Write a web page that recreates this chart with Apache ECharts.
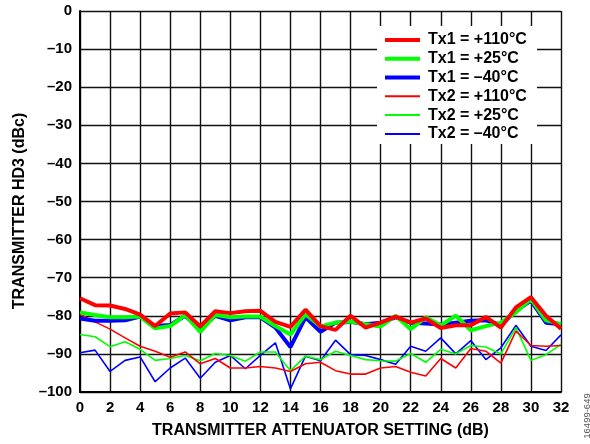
<!DOCTYPE html>
<html>
<head>
<meta charset="utf-8">
<script src="https://cdn.jsdelivr.net/npm/echarts@6/dist/echarts.min.js"></script>
<style>html,body{margin:0;padding:0;background:#fff}#c{width:590px;height:444px}</style>
</head>
<body>
<div id="c"></div>
<script>
const xValues = [0,1,2,3,4,5,6,7,8,9,10,11,12,13,14,15,16,17,18,19,20,21,22,23,24,25,26,27,28,29,30,31,32];
const yTicks = [0,-10,-20,-30,-40,-50,-60,-70,-80,-90,-100];
const tx1_110 = [-75.4,-77.2,-77.3,-78.2,-79.7,-82.7,-79.4,-79.1,-82.8,-78.8,-79.3,-78.8,-78.7,-81.6,-82.9,-78.4,-82.7,-83.7,-80.0,-83.1,-81.8,-80.2,-81.8,-80.7,-83.2,-82.5,-82.5,-80.3,-83.1,-77.8,-75.1,-80.0,-83.4];
const tx1_25  = [-79.1,-79.8,-80.4,-80.4,-80.2,-83.3,-82.7,-79.8,-84.2,-79.8,-80.4,-80.2,-80.2,-82.7,-84.9,-79.6,-82.8,-81.8,-81.5,-82.2,-82.8,-80.0,-83.5,-80.4,-82.5,-80.0,-83.8,-82.7,-81.8,-79.1,-75.6,-81.2,-82.2];
const tx1_m40 = [-80.7,-81.3,-81.3,-81.2,-80.2,-82.7,-82.4,-80.0,-83.5,-80.0,-81.2,-80.4,-80.4,-83.1,-88.2,-80.4,-84.2,-81.8,-81.6,-82.2,-81.8,-80.4,-81.8,-82.0,-82.3,-81.8,-81.3,-81.2,-82.4,-78.7,-76.0,-81.8,-82.2];
const tx2_110 = [-79.6,-81.6,-83.5,-85.8,-88.0,-89.3,-90.9,-89.5,-92.6,-91.2,-93.7,-93.7,-93.3,-93.7,-94.6,-92.6,-92.2,-94.4,-95.3,-95.3,-93.7,-93.3,-94.8,-95.8,-91.2,-93.7,-88.6,-89.3,-92.4,-84.0,-87.8,-88.0,-87.8];
const tx2_25  = [-84.9,-85.5,-88.1,-86.8,-88.8,-91.7,-91.2,-90.4,-91.8,-89.9,-90.4,-91.9,-89.5,-89.5,-94.4,-90.6,-91.5,-89.3,-90.4,-91.5,-91.8,-91.9,-89.9,-92.2,-88.8,-90.0,-87.8,-88.2,-90.0,-83.1,-91.7,-90.2,-87.5];
const tx2_m40 = [-89.7,-89.0,-94.6,-91.7,-90.8,-97.3,-93.7,-91.1,-96.4,-92.2,-90.4,-93.9,-90.4,-87.1,-99.2,-90.6,-91.8,-86.4,-90.2,-90.4,-91.5,-92.7,-88.0,-89.3,-85.8,-90.0,-86.5,-91.5,-88.4,-82.5,-88.0,-89.1,-85.0];
const seriesNames = ['Tx1 = +110°C','Tx1 = +25°C','Tx1 = –40°C','Tx2 = +110°C','Tx2 = +25°C','Tx2 = –40°C'];

const FONT = '"Liberation Sans", Arial, sans-serif';
const pair = arr => arr.map((v,i)=>[xValues[i], v]);
function mk(name, data, color, width, z){
  return {name, type:'line', data: pair(data), symbol:'none', z,
    lineStyle:{color, width}, itemStyle:{color}, animation:false};
}
const legendText = {fontFamily:FONT, fontWeight:'bold', fontSize:16, color:'#000', lineHeight:18.8, padding:[0,0,0,3]};
const chart = echarts.init(document.getElementById('c'));
chart.setOption({
  animation:false,
  grid:{left:80, right:29, top:11, bottom:50},
  xAxis:{type:'value', min:0, max:32, interval:2,
    name:'TRANSMITTER ATTENUATOR SETTING (dB)', nameLocation:'middle', nameGap:31,
    nameTextStyle:{fontFamily:FONT, fontWeight:'bold', fontSize:16, color:'#000'},
    axisLine:{show:true, onZero:false, lineStyle:{color:'#000', width:2}},
    axisTick:{show:false},
    axisLabel:{fontFamily:FONT, fontWeight:'bold', fontSize:15, color:'#000', margin:8},
    splitLine:{show:true, lineStyle:{color:'#111', width:1.4}}},
  yAxis:{type:'value', min:-100, max:0, interval:10,
    axisLine:{show:true, lineStyle:{color:'#000', width:2}},
    axisTick:{show:false},
    axisLabel:{fontFamily:FONT, fontWeight:'bold', fontSize:15, color:'#000', margin:8,
      formatter: v => (v<0 ? '–'+Math.abs(v) : String(v))},
    splitLine:{show:true, lineStyle:{color:'#111', width:1.4}}},
  legend:[
    {orient:'vertical', left:385, top:30.6, padding:0, itemWidth:35, itemHeight:4, itemGap:0,
     icon:'rect', z:10, textStyle:legendText, data: seriesNames.slice(0,3)},
    {orient:'vertical', left:385, top:86.9, padding:0, itemWidth:35, itemHeight:2, itemGap:0,
     icon:'rect', z:10, textStyle:legendText, data: seriesNames.slice(3)}
  ],
  series:[
    mk(seriesNames[5], tx2_m40, '#0000ff', 1.6, 2),
    mk(seriesNames[4], tx2_25, '#00ff00', 1.6, 2),
    mk(seriesNames[3], tx2_110, '#ff0000', 1.6, 2),
    mk(seriesNames[2], tx1_m40, '#0000ff', 4, 3),
    mk(seriesNames[1], tx1_25, '#00ff00', 4, 3),
    mk(seriesNames[0], tx1_110, '#ff0000', 4, 3)
  ],
  graphic:[
    {type:'rect', shape:{x:377, y:26, width:160, height:118}, style:{fill:'#fff'}, z:5},
    {type:'text', x:19.5, y:211, rotation:Math.PI/2, z:5,
     style:{text:'TRANSMITTER HD3 (dBc)', fontFamily:FONT, fontWeight:'bold', fontSize:16, fill:'#000', align:'center', verticalAlign:'middle'}},
    {type:'text', x:587, y:416, rotation:Math.PI/2, z:5,
     style:{text:'16499-649', fontFamily:FONT, fontSize:9.5, fill:'#555', align:'center', verticalAlign:'middle'}}
  ]
});
</script>
</body>
</html>
